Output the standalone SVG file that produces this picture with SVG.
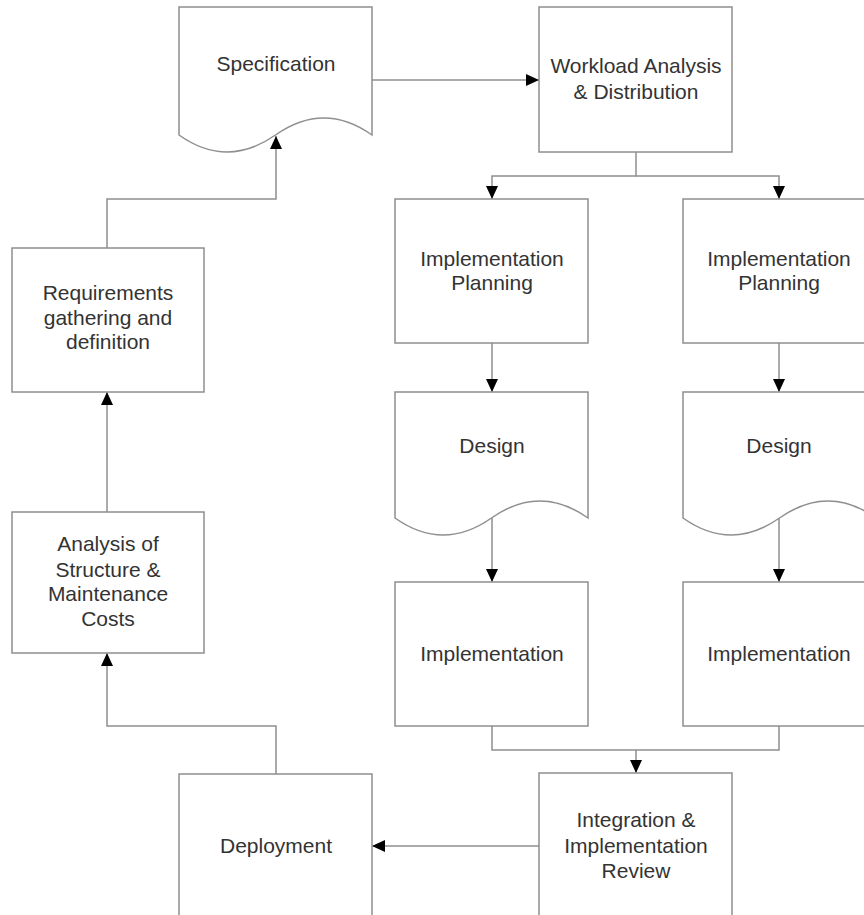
<svg xmlns="http://www.w3.org/2000/svg" width="864" height="915" viewBox="0 0 864 915">
<style>
.box{fill:#fff;stroke:#8f8f8f;stroke-width:1.5}
.lbl{font-family:"Liberation Sans",Arial,sans-serif;font-size:21px;fill:#333;text-anchor:middle}
.con{fill:none;stroke:#8f8f8f;stroke-width:1.5}
</style>
<defs>
<marker id="ah" markerUnits="userSpaceOnUse" markerWidth="14" markerHeight="12" viewBox="0 0 14 12" refX="13" refY="6" orient="auto">
<path d="M0,0 L13,6 L0,12 Z" fill="#000"/>
</marker>
</defs>
<rect width="864" height="915" fill="#fff"/>
<g id="connectors">
<path class="con" d="M372,80 H539" marker-end="url(#ah)"/>
<path class="con" d="M636,152 V176 H492 V199" marker-end="url(#ah)"/>
<path class="con" d="M636,176 H779 V199" marker-end="url(#ah)"/>
<path class="con" d="M492,343 V392" marker-end="url(#ah)"/>
<path class="con" d="M779,343 V392" marker-end="url(#ah)"/>
<path class="con" d="M492,518 V582" marker-end="url(#ah)"/>
<path class="con" d="M779,518 V582" marker-end="url(#ah)"/>
<path class="con" d="M492,726 V750 H779 V726"/>
<path class="con" d="M636,750 V773" marker-end="url(#ah)"/>
<path class="con" d="M539,846 H372" marker-end="url(#ah)"/>
<path class="con" d="M276,774 V726 H107 V653" marker-end="url(#ah)"/>
<path class="con" d="M107,512 V392" marker-end="url(#ah)"/>
<path class="con" d="M107,248 V199 H276 V136" marker-end="url(#ah)"/>
</g>
<g id="specification">
<path class="box" d="M179,7 H372 V135 Q324,101 275.5,135 T179,135 Z"/>
<text class="lbl" x="276" y="71">Specification</text>
</g>
<g id="workload">
<rect class="box" x="539" y="7" width="193" height="145"/>
<text class="lbl" x="636" y="73">Workload Analysis</text>
<text class="lbl" x="636" y="99">&amp; Distribution</text>
</g>
<g id="planning1">
<rect class="box" x="395" y="199" width="193" height="144"/>
<text class="lbl" x="492" y="266">Implementation</text>
<text class="lbl" x="492" y="290">Planning</text>
</g>
<g id="planning2">
<rect class="box" x="683" y="199" width="193" height="144"/>
<text class="lbl" x="779" y="266">Implementation</text>
<text class="lbl" x="779" y="290">Planning</text>
</g>
<g id="design1">
<path class="box" d="M395,392 H588 V518 Q540,484 491.5,518 T395,518 Z"/>
<text class="lbl" x="492" y="453">Design</text>
</g>
<g id="design2">
<path class="box" d="M683,392 H876 V518 Q828,484 779.5,518 T683,518 Z"/>
<text class="lbl" x="779" y="453">Design</text>
</g>
<g id="impl1">
<rect class="box" x="395" y="582" width="193" height="144"/>
<text class="lbl" x="492" y="661">Implementation</text>
</g>
<g id="impl2">
<rect class="box" x="683" y="582" width="193" height="144"/>
<text class="lbl" x="779" y="661">Implementation</text>
</g>
<g id="integration">
<rect class="box" x="539" y="773" width="193" height="160"/>
<text class="lbl" x="636" y="827">Integration &amp;</text>
<text class="lbl" x="636" y="853">Implementation</text>
<text class="lbl" x="636" y="878">Review</text>
</g>
<g id="deployment">
<rect class="box" x="179" y="774" width="193" height="160"/>
<text class="lbl" x="276" y="853">Deployment</text>
</g>
<g id="requirements">
<rect class="box" x="12" y="248" width="192" height="144"/>
<text class="lbl" x="108" y="300">Requirements</text>
<text class="lbl" x="108" y="325">gathering and</text>
<text class="lbl" x="108" y="349">definition</text>
</g>
<g id="analysis">
<rect class="box" x="12" y="512" width="192" height="141"/>
<text class="lbl" x="108" y="551">Analysis of</text>
<text class="lbl" x="108" y="577">Structure &amp;</text>
<text class="lbl" x="108" y="601">Maintenance</text>
<text class="lbl" x="108" y="626">Costs</text>
</g>
</svg>
